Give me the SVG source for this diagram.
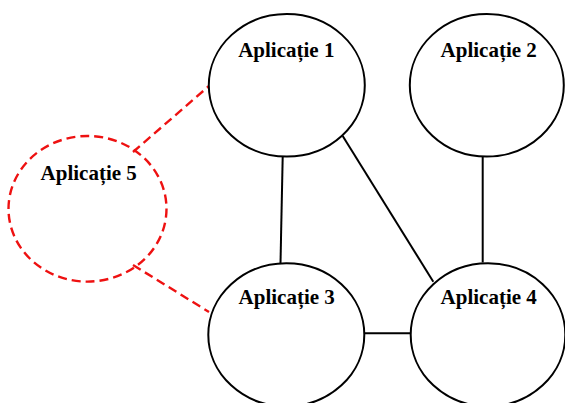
<svg xmlns="http://www.w3.org/2000/svg" width="565" height="403" viewBox="0 0 565 403">
  <style>
    .node { fill: #ffffff; stroke: #000000; stroke-width: 2; }
    .ghost { fill: none; stroke: #ee1111; stroke-width: 2.4; stroke-dasharray: 9 5; }
    .link { stroke: #000000; stroke-width: 2; fill: none; }
    .dash { stroke: #ee1111; stroke-width: 2.4; stroke-dasharray: 9 5; fill: none; }
    .label { font-family: "Liberation Serif", "Times New Roman", serif; font-weight: bold; font-size: 21px; text-anchor: middle; fill: #000000; }
  </style>
  <rect width="565" height="403" fill="#ffffff"/>

  <g id="connectors">
    <line class="link" x1="282.7" y1="156.5" x2="280.5" y2="263"/>
    <line class="link" x1="342.7" y1="136" x2="433.3" y2="281.7"/>
    <line class="link" x1="482.7" y1="156.5" x2="482.7" y2="262.5"/>
    <line class="link" x1="364.3" y1="333.3" x2="410.7" y2="333.3"/>
    <line class="dash" x1="133" y1="152" x2="209" y2="86"/>
    <line class="dash" x1="133" y1="265" x2="209" y2="312"/>
  </g>

  <g id="app1">
    <ellipse class="node" cx="286.8" cy="85.3" rx="78" ry="71.3"/>
    <text class="label" x="286.3" y="57">Aplicație 1</text>
  </g>
  <g id="app2">
    <ellipse class="node" cx="486.8" cy="85.3" rx="77" ry="71.3"/>
    <text class="label" x="488.7" y="57">Aplicație 2</text>
  </g>
  <g id="app3">
    <ellipse class="node" cx="286.3" cy="334.8" rx="78" ry="71.5"/>
    <text class="label" x="286.7" y="304">Aplicație 3</text>
  </g>
  <g id="app4">
    <ellipse class="node" cx="488" cy="334.8" rx="77.3" ry="71.5"/>
    <text class="label" x="488.7" y="304">Aplicație 4</text>
  </g>
  <g id="app5">
    <ellipse class="ghost" cx="87.5" cy="208.8" rx="79" ry="72.8"/>
    <text class="label" x="88.7" y="180">Aplicație 5</text>
  </g>
</svg>
